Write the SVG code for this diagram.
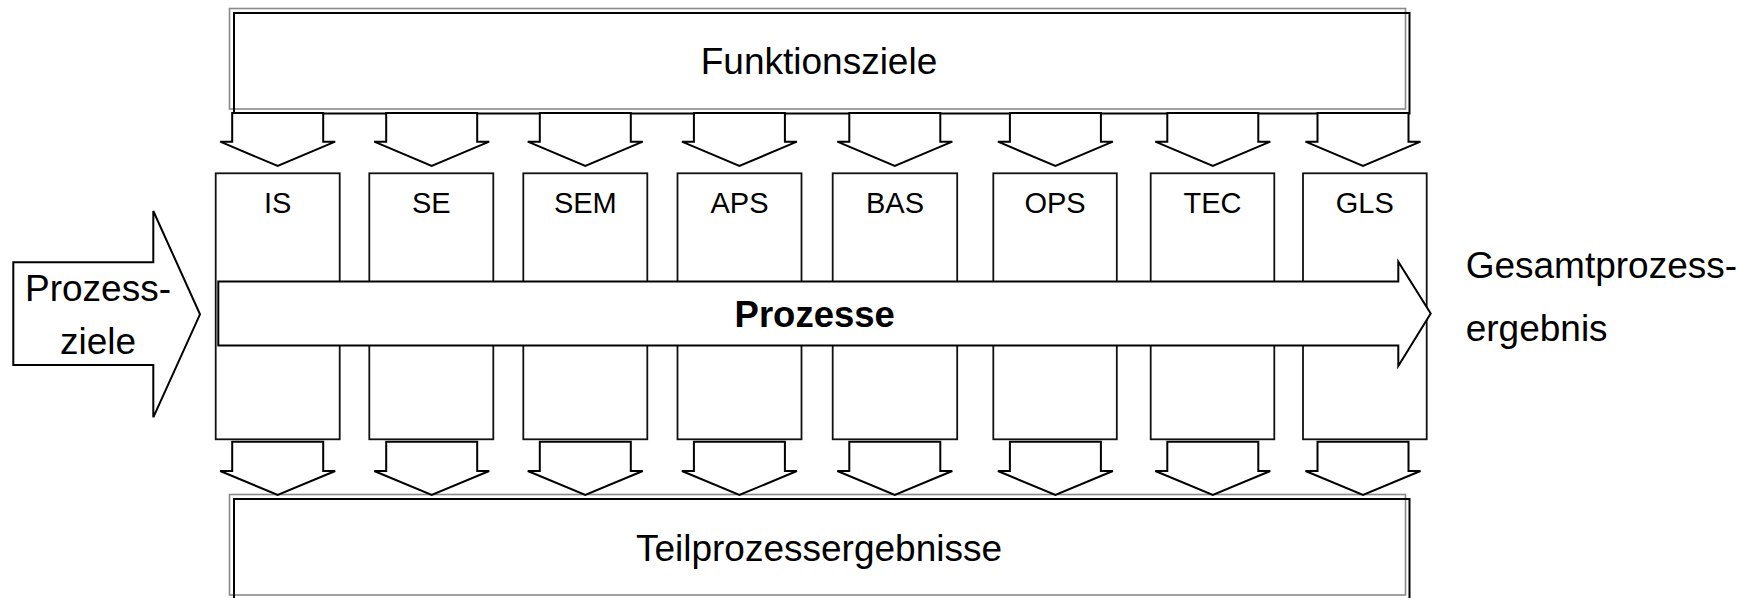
<svg xmlns="http://www.w3.org/2000/svg" width="1758" height="598" viewBox="0 0 1758 598">
<style>
.bg{fill:#fff}
.gray{fill:none;stroke:#8a8a8a;stroke-width:1.6}
.blk{fill:none;stroke:#000;stroke-width:2}
.box{fill:#fff;stroke:#111;stroke-width:1.8}
.arr{fill:#fff;stroke:#000;stroke-width:2;stroke-linejoin:miter}
.t{font-family:"Liberation Sans",Arial,sans-serif;fill:#000}
.big{font-size:37px}
.lbl{font-size:29px;text-anchor:middle}
</style>
<defs>
<path id="downTop" d="M-45.5,113 V141.7 H-57.5 L0,166 L57.5,141.7 H45.5 V113 Z"/>
<path id="downBot" d="M-45.5,441.7 V471 H-57.5 L0,495 L57.5,471 H45.5 V441.7 Z"/>
</defs>
<rect class="bg" x="0" y="0" width="1758" height="598"/>

<g id="funktionsziele">
<rect class="gray" x="229.5" y="8.5" width="1176" height="100.5"/>
<rect class="blk" x="234" y="13" width="1175.5" height="100.5"/>
<text class="t big" x="819" y="74" text-anchor="middle">Funktionsziele</text>
</g>

<g id="teilprozessergebnisse">
<rect class="gray" x="229.5" y="494.5" width="1176" height="100.5"/>
<rect class="blk" x="234" y="499" width="1175.5" height="100.5"/>
<text class="t big" x="819" y="560.5" text-anchor="middle">Teilprozessergebnisse</text>
</g>

<g id="box-IS"><rect class="box" x="215.7" y="173.3" width="124" height="266"/><text class="t lbl" x="277.7" y="213.3">IS</text></g>
<g id="box-SE"><rect class="box" x="369.3" y="173.3" width="124" height="266"/><text class="t lbl" x="431.3" y="213.3">SE</text></g>
<g id="box-SEM"><rect class="box" x="523.3" y="173.3" width="124" height="266"/><text class="t lbl" x="585.3" y="213.3">SEM</text></g>
<g id="box-APS"><rect class="box" x="677.5" y="173.3" width="124" height="266"/><text class="t lbl" x="739.5" y="213.3">APS</text></g>
<g id="box-BAS"><rect class="box" x="832.7" y="173.3" width="124.5" height="266"/><text class="t lbl" x="895" y="213.3">BAS</text></g>
<g id="box-OPS"><rect class="box" x="993.3" y="173.3" width="123.5" height="266"/><text class="t lbl" x="1055" y="213.3">OPS</text></g>
<g id="box-TEC"><rect class="box" x="1150.7" y="173.3" width="123.6" height="266"/><text class="t lbl" x="1212.5" y="213.3">TEC</text></g>
<g id="box-GLS"><rect class="box" x="1303" y="173.3" width="123.7" height="266"/><text class="t lbl" x="1364.8" y="213.3">GLS</text></g>

<g id="connectors">
<use href="#downTop" class="arr" x="277.7"/>
<use href="#downTop" class="arr" x="431.7"/>
<use href="#downTop" class="arr" x="585.3"/>
<use href="#downTop" class="arr" x="739.4"/>
<use href="#downTop" class="arr" x="894.8"/>
<use href="#downTop" class="arr" x="1055.4"/>
<use href="#downTop" class="arr" x="1212.8"/>
<use href="#downTop" class="arr" x="1363"/>
<use href="#downBot" class="arr" x="277.7"/>
<use href="#downBot" class="arr" x="431.7"/>
<use href="#downBot" class="arr" x="585.3"/>
<use href="#downBot" class="arr" x="739.4"/>
<use href="#downBot" class="arr" x="894.8"/>
<use href="#downBot" class="arr" x="1055.4"/>
<use href="#downBot" class="arr" x="1212.8"/>
<use href="#downBot" class="arr" x="1363"/>
</g>

<g id="prozesse">
<path class="arr" d="M218.3,281.5 H1398.3 V261.7 L1430.7,313.5 L1398.3,366 V345.5 H218.3 Z"/>
<text class="t" x="814.7" y="326.7" font-size="36.5" font-weight="bold" text-anchor="middle">Prozesse</text>
</g>

<g id="prozessziele">
<path class="arr" d="M13.3,262.3 H153.3 V211 L200,314.3 L153.3,417.3 V365 H13.3 Z"/>
<text class="t big" x="98" y="300.7" text-anchor="middle">Prozess-</text>
<text class="t big" x="98" y="354" text-anchor="middle">ziele</text>
</g>

<g id="gesamtprozessergebnis">
<text class="t big" x="1465.7" y="277.7">Gesamtprozess-</text>
<text class="t big" x="1465.7" y="340.7">ergebnis</text>
</g>
</svg>
